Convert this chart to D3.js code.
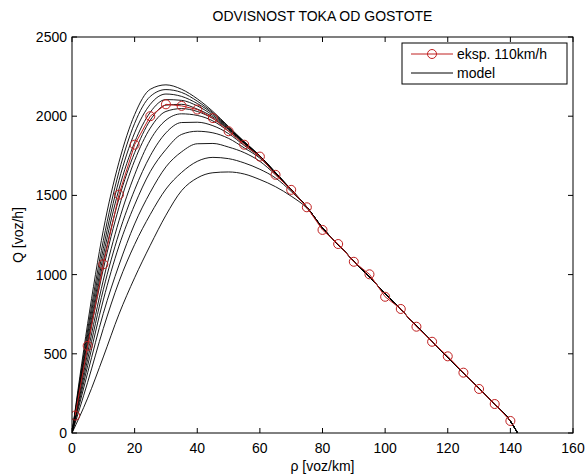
<!DOCTYPE html>
<html>
<head>
<meta charset="utf-8">
<script src="https://cdn.jsdelivr.net/npm/d3@7"></script>
<style>
  body { margin: 0; background: #fff; }
  svg { display: block; font-family: "Liberation Sans", Arial, sans-serif; }
</style>
</head>
<body>
<svg width="585" height="474"></svg>
<script>
// eksperimentalni podatki (110 km/h)
const rhoExp = [1, 5, 10, 15, 20, 25, 30, 35, 40, 45, 50, 55, 60, 65, 70, 75, 80, 85, 90, 95, 100, 105, 110, 115, 120, 125, 130, 135, 140]
const qExp = [110, 550, 1065, 1505, 1820, 2000, 2075, 2065, 2042, 1988, 1905, 1820, 1745, 1630, 1535, 1425, 1282, 1193, 1081, 1002, 860, 783, 671, 576, 484, 381, 278, 183, 76]

// model: gostote do 75, potem skupni rep
const rhoModel = [0, 5, 10, 15, 20, 25, 30, 35, 40, 45, 50, 55, 60, 65, 70, 75]
const rhoTail = [80, 85, 90, 95, 100, 105, 110, 115, 120, 125, 130, 135, 140, 142.3]
const qTail = [1295, 1190, 1085, 985, 880, 780, 675, 575, 478, 380, 280, 180, 75, 0]

const qModel = [
  [0, 690, 1280, 1710, 2010, 2170, 2198, 2170, 2110, 2030, 1935, 1840, 1750, 1645, 1537, 1427],
  [0, 650, 1215, 1650, 1955, 2125, 2168, 2150, 2095, 2022, 1930, 1838, 1749, 1644, 1537, 1427],
  [0, 620, 1165, 1595, 1895, 2075, 2140, 2125, 2080, 2015, 1925, 1836, 1748, 1643, 1536, 1426],
  [0, 590, 1120, 1540, 1835, 2025, 2105, 2100, 2065, 2005, 1922, 1834, 1747, 1642, 1536, 1426],
  [0, 565, 1080, 1480, 1770, 1975, 2070, 2075, 2045, 1995, 1918, 1832, 1746, 1641, 1535, 1426],
  [0, 545, 1035, 1425, 1720, 1925, 2030, 2048, 2030, 1985, 1915, 1830, 1745, 1640, 1535, 1425],
  [0, 505, 965, 1340, 1630, 1850, 1975, 2015, 2005, 1970, 1905, 1827, 1744, 1640, 1535, 1425],
  [0, 465, 905, 1260, 1535, 1750, 1895, 1960, 1962, 1940, 1890, 1815, 1742, 1640, 1535, 1425],
  [0, 425, 840, 1180, 1440, 1650, 1790, 1885, 1905, 1895, 1860, 1800, 1735, 1640, 1535, 1425],
  [0, 380, 755, 1060, 1320, 1520, 1680, 1775, 1826, 1828, 1805, 1770, 1715, 1630, 1535, 1425],
  [0, 320, 660, 955, 1190, 1380, 1540, 1645, 1715, 1740, 1732, 1705, 1665, 1610, 1525, 1425],
  [0, 220, 480, 750, 980, 1185, 1375, 1530, 1610, 1643, 1648, 1635, 1600, 1555, 1495, 1420]
]

const xTicks = [0, 20, 40, 60, 80, 100, 120, 140, 160]
const yTicks = [0, 500, 1000, 1500, 2000, 2500]

const width = 585
const height = 474
const margin = {top: 37, right: 12, bottom: 41, left: 72}

const svg = d3.select('svg')

const x = d3.scaleLinear().domain([0, 160]).range([margin.left, width - margin.right])
const y = d3.scaleLinear().domain([0, 2500]).range([height - margin.bottom, margin.top])

svg.append('clipPath').attr('id', 'clip')
  .append('rect')
  .attr('x', margin.left).attr('y', margin.top)
  .attr('width', x(160) - x(0)).attr('height', y(0) - y(2500))

const plot = svg.append('g').attr('clip-path', 'url(#clip)')

const line = d3.line()
  .x(d => x(d[0]))
  .y(d => y(d[1]))
  .curve(d3.curveMonotoneX)

// krivulje modela
qModel.forEach(q => {
  const pts = rhoModel.map((r, i) => [r, q[i]])
    .concat(rhoTail.map((r, i) => [r, qTail[i]]))
  plot.append('path')
    .attr('d', line(pts))
    .attr('fill', 'none')
    .attr('stroke', '#000')
    .attr('stroke-width', 0.9)
})

// eksperiment
const red = '#c02020'
const expPts = rhoExp.map((r, i) => [r, qExp[i]])
plot.append('path')
  .attr('d', d3.line().x(d => x(d[0])).y(d => y(d[1]))(expPts))
  .attr('fill', 'none')
  .attr('stroke', red)
  .attr('stroke-width', 1)

plot.selectAll('.marker').data(expPts).enter().append('circle')
  .attr('class', 'marker')
  .attr('cx', d => x(d[0]))
  .attr('cy', d => y(d[1]))
  .attr('r', 4.5)
  .attr('fill', 'none')
  .attr('stroke', red)
  .attr('stroke-width', 1)

// osi
const tickLen = 5
const axisG = svg.append('g').attr('stroke', '#000').attr('stroke-width', 1)
axisG.append('rect')
  .attr('x', x(0)).attr('y', y(2500))
  .attr('width', x(160) - x(0)).attr('height', y(0) - y(2500))
  .attr('fill', 'none')

xTicks.forEach(t => {
  axisG.append('line').attr('x1', x(t)).attr('x2', x(t)).attr('y1', y(0)).attr('y2', y(0) - tickLen)
  axisG.append('line').attr('x1', x(t)).attr('x2', x(t)).attr('y1', y(2500)).attr('y2', y(2500) + tickLen)
})
yTicks.forEach(t => {
  axisG.append('line').attr('x1', x(0)).attr('x2', x(0) + tickLen).attr('y1', y(t)).attr('y2', y(t))
  axisG.append('line').attr('x1', x(160)).attr('x2', x(160) - tickLen).attr('y1', y(t)).attr('y2', y(t))
})

svg.selectAll('.xlab').data(xTicks).enter().append('text')
  .attr('x', d => x(d))
  .attr('y', y(0) + 20)
  .attr('text-anchor', 'middle')
  .attr('font-size', 14)
  .text(d => d)

svg.selectAll('.ylab').data(yTicks).enter().append('text')
  .attr('x', x(0) - 5)
  .attr('y', d => y(d) + 5)
  .attr('text-anchor', 'end')
  .attr('font-size', 14)
  .text(d => d)

svg.append('text')
  .attr('x', (x(0) + x(160)) / 2)
  .attr('y', 21)
  .attr('text-anchor', 'middle')
  .attr('font-size', 14)
  .text('ODVISNOST TOKA OD GOSTOTE')

svg.append('text')
  .attr('x', (x(0) + x(160)) / 2)
  .attr('y', 471)
  .attr('text-anchor', 'middle')
  .attr('font-size', 14)
  .text('ρ [voz/km]')

svg.append('text')
  .attr('transform', `translate(23, ${(y(0) + y(2500)) / 2}) rotate(-90)`)
  .attr('text-anchor', 'middle')
  .attr('font-size', 14)
  .text('Q [voz/h]')

// legenda
const leg = svg.append('g')
leg.append('rect')
  .attr('x', 402).attr('y', 43).attr('width', 165).attr('height', 41)
  .attr('fill', '#fff').attr('stroke', '#000').attr('stroke-width', 1)
leg.append('line').attr('x1', 411).attr('x2', 453).attr('y1', 54).attr('y2', 54)
  .attr('stroke', red).attr('stroke-width', 1)
leg.append('circle').attr('cx', 432).attr('cy', 54).attr('r', 4.5)
  .attr('fill', 'none').attr('stroke', red)
leg.append('line').attr('x1', 411).attr('x2', 453).attr('y1', 73).attr('y2', 73)
  .attr('stroke', '#000').attr('stroke-width', 1)
leg.append('text').attr('x', 457).attr('y', 59).attr('font-size', 14).text('eksp. 110km/h')
leg.append('text').attr('x', 457).attr('y', 78).attr('font-size', 14).text('model')
</script>
</body>
</html>
